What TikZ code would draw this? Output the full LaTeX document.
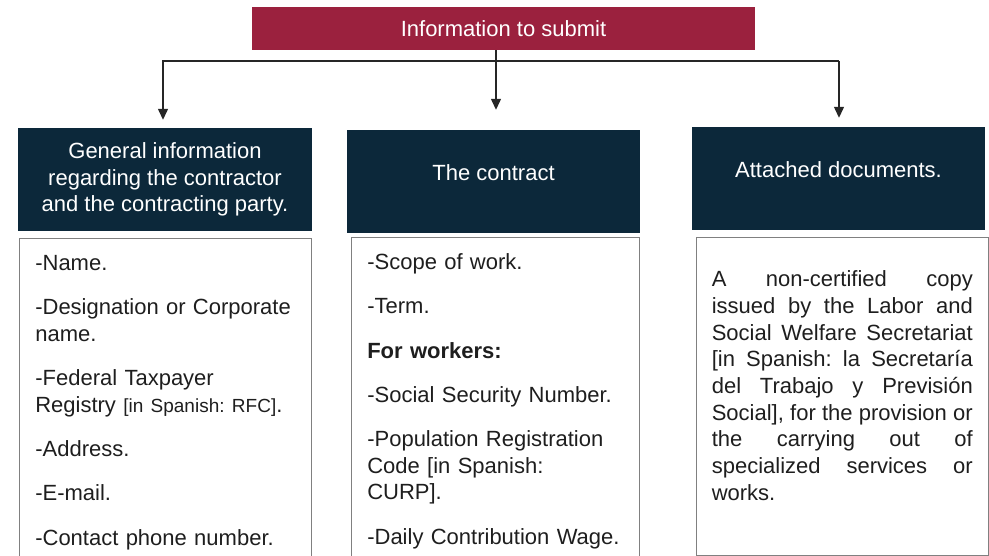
\documentclass[tikz,border=0pt]{standalone}
\usepackage{fontspec}
\setmainfont{Liberation Sans}
\usepackage{tikz}
\usetikzlibrary{positioning,arrows.meta}
\definecolor{submitred}{RGB}{155,33,62}
\definecolor{headblue}{RGB}{12,40,58}
\definecolor{boxgray}{RGB}{128,128,128}
\definecolor{textgray}{RGB}{30,30,30}
\frenchspacing
\tikzset{
  titel/.style={
      fill=submitred,
      text=white,
      minimum width=503pt,
      minimum height=43pt,
      inner sep=0pt,
  },
  kopf/.style={
      fill=headblue,
      text=white,
      align=center,
      minimum width=293pt,
      minimum height=103pt,
      inner sep=0pt,
  },
  liste/.style={
      draw=boxgray,
      line width=1pt,
      text=textgray,
      align=left,
      inner xsep=16pt,
      inner ysep=0pt,
      text width=#1,
  },
  liste/.default=258pt,
  pfeil/.style={
      draw=black!85,
      line width=1.3pt,
      -{Triangle[width=10pt,length=11pt]}
  }
}

\begin{document}
\begin{tikzpicture}[x=1pt,y=-1pt,font=\fontsize{22pt}{26.7pt}\selectfont]
  \useasboundingbox (0,0) rectangle (989,556);
  \clip (0,0) rectangle (989,556);
  \node[titel](info) at (503.5,28.5){Information to submit};
  \node[kopf,minimum width=294pt](h1) at (165,179.5){General information\\regarding the contractor\\and the contracting party.};
  \node[kopf,text depth=17pt](h2) at (493.5,181.5){The contract};
  \node[kopf,text depth=17pt](h3) at (838.5,178.5){Attached documents.};
  % lists below the headers
  \node[liste=260pt,below right=7pt and 1pt of h1.south west,
  text height=32pt,text depth=300pt](c1){-Name.\\[17.5pt]
    -Designation or Corporate\\name.\\[17.5pt]
    -Federal Taxpayer\\Registry {\fontsize{19pt}{26.7pt}\selectfont[in Spanish: RFC]}.\\[17.5pt]
    -Address.\\[17.5pt]
    -E-mail.\\[17.5pt]
    -Contact phone number.};
  \node[liste=256pt,below right=4pt and 4pt of h2.south west,
  text height=32pt,text depth=300pt](c2){-Scope of work.\\[17.5pt]
    -Term.\\[17.5pt]
    \textbf{For workers:}\\[17.5pt]
    -Social Security Number.\\[17.5pt]
    -Population Registration\\Code {[}in Spanish:\\CURP].\\[17.5pt]
    -Daily Contribution Wage.};
  \node[liste=261pt,inner xsep=15.5pt,align=justify,
  below right=7pt and 4pt of h3.south west,
  text height=49pt,text depth=269pt,
  execute at begin node={\tolerance=10000\hbadness=10000}](c3){A non-certified copy\linebreak
    issued by the Labor and\linebreak
    Social Welfare Secretariat\linebreak
    {[}in Spanish: la Secretaría\linebreak
    del Trabajo y Previsión\linebreak
    Social], for the provision or\linebreak
    the carrying out of\linebreak
    specialized services or\linebreak
    works.};
  % connectors
  \coordinate (gl) at (163,61);
  \coordinate (gr) at (839,61);
  \draw[pfeil,shorten >=8pt] (gr) -- (gl) -- (gl |- h1.north);
  \draw[pfeil,shorten >=9pt] (gr) -- (gr |- h3.north);
  \draw[pfeil,shorten >=20pt] ([xshift=-7.5pt]info.south) -- ([xshift=-7.5pt]info.south |- h2.north);
\end{tikzpicture}
\end{document}
